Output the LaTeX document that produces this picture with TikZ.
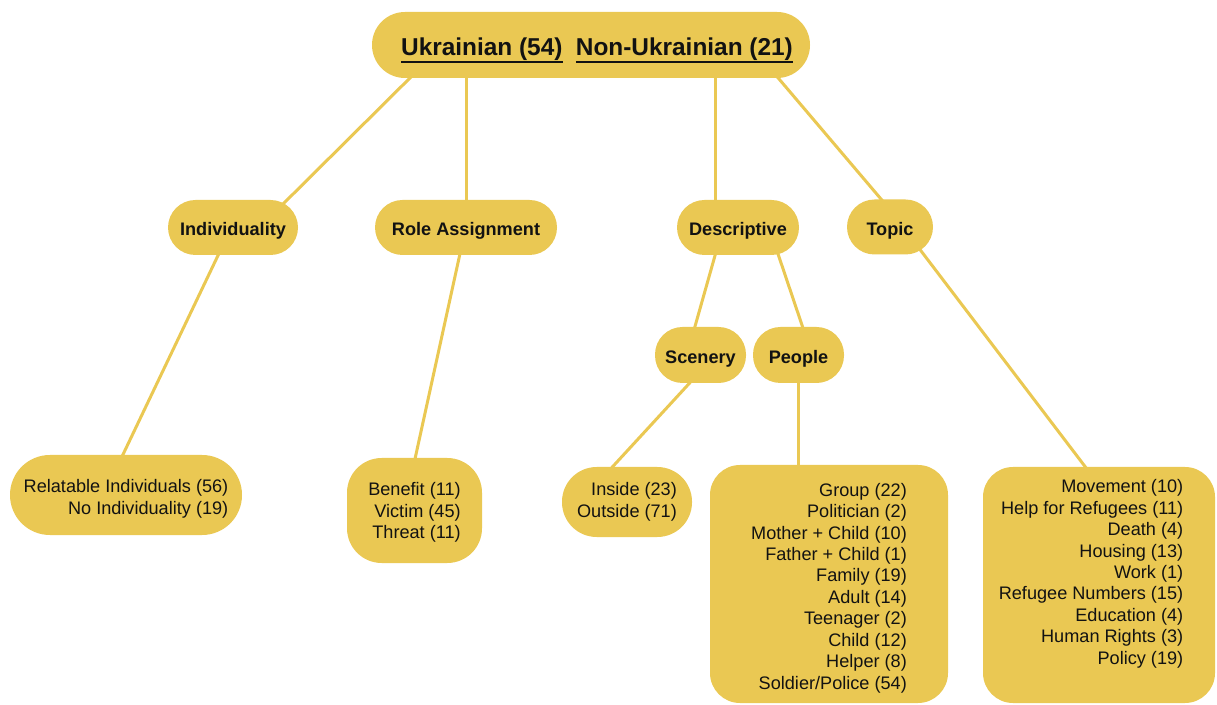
\documentclass[tikz,border=0pt]{standalone}
\usepackage{fontspec}
\setmainfont{Liberation Sans}
\newcommand{\ulbar}[1]{\leavevmode\vtop{\hbox{#1}\kern0.2pt\hrule height 1.5pt}}
\usetikzlibrary{calc,backgrounds}
\definecolor{gold}{HTML}{EAC853}
\definecolor{ink}{HTML}{121212}
\begin{document}
\begin{tikzpicture}[x=0.75pt,y=-0.75pt,
  box/.style={fill=gold, draw=none, text=ink, inner sep=0pt, align=right},
  lbl/.style={box, font=\fontsize{13.6pt}{16pt}\selectfont\bfseries, minimum height=41.25pt, rounded corners=20.6pt, text height=12.3pt, text depth=0pt},
  lst/.style={box, font=\fontsize{13.6pt}{16.1pt}\selectfont},
  link/.style={draw=gold, line width=2.25pt}]
\useasboundingbox (0,0) rectangle (1217,705);

\node[box, font=\fontsize{18.3pt}{22pt}\selectfont\bfseries, minimum width=328.5pt, minimum height=49.5pt, rounded corners=24.7pt] (top) at (591,45)
  {\hspace*{9pt}\rule{0pt}{20.8pt}\ulbar{Ukrainian (54)}\hspace{0.55em}\ulbar{Non-Ukrainian (21)}};

\node[lbl, minimum width=97.5pt] (ind) at (233,227.5) {Individuality};
\node[lbl, minimum width=136.5pt] (role) at (466,227.5) {Role Assignment};
\node[lbl, minimum width=91.5pt] (desc) at (738,227.5) {Descriptive};
\node[lbl, minimum width=64.5pt] (topic) at (890,227) {Topic};
\node[lbl, minimum width=68.25pt, minimum height=42pt] (scen) at (700.5,355) {Scenery};
\node[lbl, minimum width=68.25pt, minimum height=42pt] (people) at (798.5,355) {People};

\node[lst, minimum width=174pt, minimum height=60pt, rounded corners=29.9pt] (rel) at (126,495)
  {\rule{0pt}{15.9pt}Relatable Individuals (56)\\No Individuality (19)};
\node[lst, minimum width=101.25pt, minimum height=78.75pt, rounded corners=26pt] (ben) at (414.5,510.5)
  {\rule{0pt}{12.9pt}Benefit (11)\\Victim (45)\\Threat (11)};
\node[lst, minimum width=97.5pt, minimum height=52.5pt, rounded corners=26pt] (ins) at (627,502)
  {Inside (23)\\Outside (71)};
\node[lst, minimum width=178.5pt, minimum height=178.5pt, rounded corners=22.5pt] (pbox) at (829,584)
  {\rule{0pt}{15.9pt}Group (22)\\Politician (2)\\Mother + Child (10)\\Father + Child (1)\\Family (19)\\Adult (14)\\Teenager (2)\\Child (12)\\Helper (8)\\Soldier/Police (54)};
\node[lst, minimum width=174pt, minimum height=177pt, rounded corners=22.5pt] (tbox) at (1099,585)
  {\hbox{\begin{tabular}{@{}r@{}}Movement (10)\\Help for Refugees (11)\\Death (4)\\Housing (13)\\Work (1)\\Refugee Numbers (15)\\Education (4)\\Human Rights (3)\\Policy (19)\rule[-21pt]{0pt}{21pt}\end{tabular}\hspace*{12pt}}};

\begin{scope}[on background layer]
  \draw[link] ($(top)+(-171,23)$) -- ($(ind)+(42,-15.5)$);
  \draw[link] ($(top)+(-125,0)$) -- (role);
  \draw[link] ($(top)+(124,0)$) -- ($(desc)+(-23,0)$);
  \draw[link] ($(top)+(177,21)$) -- ($(topic)+(2,-15)$);
  \draw[link] ($(ind)+(-10,17.5)$) -- ($(rel)+(-8,-30)$);
  \draw[link] ($(role)+(-4,17)$) -- ($(ben)+(-1.5,-42.5)$);
  \draw[link] ($(desc)+(-20,17.5)$) -- ($(scen)+(-8.5,-18)$);
  \draw[link] ($(desc)+(37,17.5)$) -- ($(people)+(7.5,-18)$);
  \draw[link] ($(scen)+(-3.5,20)$) -- ($(ins)+(-22,-27)$);
  \draw[link] (people.center) -- (people.center |- pbox.center);
  \draw[link] ($(topic)+(25,16)$) -- ($(tbox)+(-6,-108)$);
\end{scope}
\end{tikzpicture}
\end{document}
